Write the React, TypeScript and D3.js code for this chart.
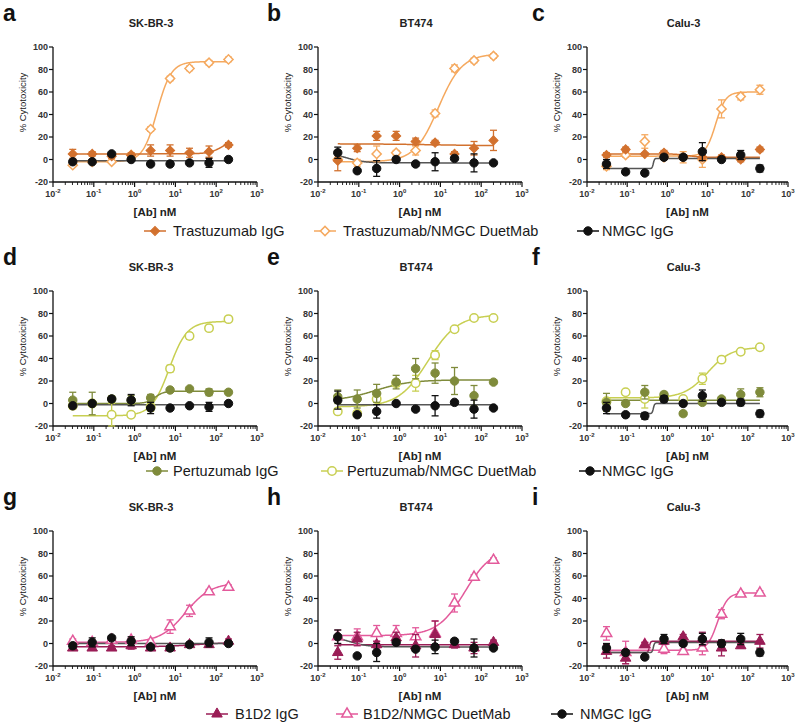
import * as d3 from 'd3';

// concentrations (nM), 3-fold dilution series
const CONC = [0.0305, 0.0914, 0.274, 0.823, 2.47, 7.41, 22.2, 66.7, 200];
const CELL_LINES = ['SK-BR-3', 'BT474', 'Calu-3'];
const PANEL_LETTERS = [['a', 'b', 'c'], ['d', 'e', 'f'], ['g', 'h', 'i']];
const X_TICK_EXP = [-2, -1, 0, 1, 2, 3];
const Y_TICKS = [-20, 0, 20, 40, 60, 80, 100];

const IGG_NAMES = ['Trastuzumab IgG', 'Pertuzumab IgG', 'B1D2 IgG'];
const DUET_NAMES = ['Trastuzumab/NMGC DuetMab', 'Pertuzumab/NMGC DuetMab', 'B1D2/NMGC DuetMab'];
const CTRL_NAME = 'NMGC IgG';
const IGG_COLORS = ['#d2712e', '#7f8b3b', '#9a1d56'];
const DUET_COLORS = ['#f5a95f', '#c8cf52', '#e35a9b'];
const CTRL_COLOR = '#111';
const CTRL_LINE = '#555';
const SHAPES = ['diamond', 'circle', 'triangle'];

// % cytotoxicity, [antibody row][cell line][concentration]
const IGG_MEAN = [
  [[5, 5, 3, 4, 8, 8, 6, 7, 13], [-1, 10, 21, 21, 16, 15, 5, 10, 17], [4, 9, 5, 6, 2, 2, 2, 0, 9]],
  [[3, 0, 4, 3, 5, 12, 13, 10, 10], [6, 4, 9, 19, 31, 27, 20, 7, 19], [1, 0, 10, 8, -9, 1, 4, 8, 10]],
  [[-4, -4, -4, -2, -4, -4, -1, -1, 2], [-8, 4, -1, 5, -2, 8, -1, -4, 1], [-7, -13, -1, 2, 6, 4, -4, -2, 2]],
];
const IGG_ERR = [
  [[4, 2, 2, 2, 5, 5, 4, 5, 2], [9, 3, 4, 4, 3, 2, 2, 6, 9], [2, 2, 1, 2, 2, 2, 2, 2, 2]],
  [[7, 10, 3, 4, 3, 1, 1, 3, 1], [6, 8, 8, 6, 9, 9, 12, 9, 2], [8, 2, 6, 2, 2, 2, 2, 5, 4]],
  [[2, 2, 2, 3, 2, 2, 2, 2, 2], [6, 6, 3, 5, 10, 12, 3, 5, 2], [6, 5, 2, 2, 2, 6, 7, 2, 6]],
];
const DUET_MEAN = [
  [[-5, -2, -2, 4, 27, 72, 81, 86, 89], [0, -3, 5, 6, 8, 41, 81, 88, 92], [-6, 4, 16, 2, 2, 0, 45, 56, 62]],
  [[-2, 0, -10, -10, -3, 31, 60, 67, 75], [-7, -9, 4, 18, 18, 43, 66, 76, 76], [2, 10, 4, 5, 4, 22, 39, 46, 50]],
  [[2, 1, 3, 3, 1, 15, 29, 46, 50], [6, 6, 9, 9, 6, 9, 36, 59, 74], [9, -8, -1, -5, -7, -4, 26, 44, 45]],
];
const DUET_ERR = [
  [[1, 1, 1, 1, 2, 2, 2, 2, 2], [2, 3, 7, 2, 4, 3, 3, 2, 2], [3, 2, 6, 2, 5, 7, 8, 3, 4]],
  [[3, 2, 10, 2, 4, 3, 3, 2, 1], [1, 2, 2, 3, 7, 4, 2, 1, 1], [2, 2, 8, 2, 2, 5, 2, 2, 2]],
  [[2, 2, 2, 2, 2, 6, 5, 2, 2], [6, 7, 7, 7, 8, 11, 8, 2, 2], [6, 10, 2, 4, 2, 6, 4, 2, 2]],
];
const CTRL_MEAN = [
  [[-2, -2, 5, 0, -4, -4, -3, -3, 0], [6, -10, -8, 0, -4, -2, 1, -3, -3], [-4, -11, -12, 2, 2, 7, 0, 4, -8]],
  [[-2, 0, 4, 3, -4, -4, -2, -3, 0], [3, -10, -7, 0, -5, -2, 1, -5, -4], [-4, -10, -11, 4, 0, 7, 1, 1, -9]],
  [[-2, 1, 5, 2, -3, -4, -1, 1, 0], [6, -11, -8, 1, -5, -3, 2, -4, -4], [-4, -8, -12, 4, 0, 4, 0, 4, -8]],
];
const CTRL_ERR = [
  [[1, 1, 1, 1, 1, 1, 1, 4, 1], [5, 1, 7, 1, 2, 8, 1, 8, 1], [4, 2, 2, 2, 2, 8, 1, 4, 3]],
  [[1, 1, 1, 5, 5, 1, 1, 4, 1], [8, 1, 6, 1, 2, 9, 1, 8, 1], [5, 2, 3, 3, 2, 5, 2, 3, 3]],
  [[2, 4, 2, 4, 2, 2, 2, 4, 2], [6, 1, 8, 2, 2, 6, 2, 8, 1], [4, 2, 2, 4, 2, 5, 3, 5, 3]],
];

// four-parameter fits: [low-conc plateau, high-conc plateau, logEC50, hill]
const IGG_FIT = [
  [[5, 20, 2.2, 2.5], [14, 12, 1, 0.5], [5, 2, 0.5, 3]],
  [[0, 11, 0.5, 4], [2, 21, -0.6, 1], [3, 3, 0, 1]],
  [[-3, 1, 1.5, 1], [-1, -1, 0, 1], [-8, 2, -0.45, 30]],
];
const DUET_FIT = [
  [[-2, 87, 0.55, 2.5], [-2, 94, 0.95, 1.5], [3, 60, 1.2, 3.5]],
  [[-11, 73, 0.85, 2], [-3, 79, 0.7, 1.2], [5, 50, 1.0, 1.5]],
  [[1, 54, 1.25, 1.4], [7, 85, 1.6, 1.3], [-6, 45, 1.25, 3.5]],
];
const CTRL_FIT = [
  [[-1, -1, 0, 1], [6, -3, -1.3, 2], [-8, 1, -0.35, 30]],
  [[-1, -1, 0, 1], [-1, -1, 0, 1], [-9, 0, -0.35, 30]],
  [[0, 0, 0, 1], [6, -3, -1.2, 2], [-8, 1, -0.35, 30]],
];

// layout
const COL_X = [53, 318, 587];
const COL_W = [204, 204, 201];
const ROW_TOP = [47, 291, 531];
const PLOT_H = 135;
const LETTER_X = [3, 267, 532];
const LEGEND_DY = [49, 45, 48];
const LEGEND_MARK_X = [[155, 325, 588], [157, 332, 590], [217, 347, 562]];
const LEGEND_TEXT_X = [[173, 343, 602], [173, 347, 602], [235, 363, 580]];

const FONT = '"Liberation Sans", Arial, Helvetica, sans-serif';

function markerPath(shape: string) {
  if (shape === 'circle') return d3.symbol(d3.symbolCircle, 56)()!;
  if (shape === 'triangle') return d3.symbol(d3.symbolTriangle, 48)()!;
  return d3.symbol(d3.symbolSquare, 42)()!;
}

function Marker({ shape, color, open, x, y }: { shape: string; color: string; open: boolean; x: number; y: number }) {
  const rot = shape === 'diamond' ? ' rotate(45)' : '';
  return (
    <path
      d={markerPath(shape)}
      transform={`translate(${x},${y})${rot}`}
      fill={open ? '#fff' : color}
      stroke={color}
      strokeWidth={open ? 1.5 : 1}
    />
  );
}

function fitValue(p: number[], logx: number) {
  const [lo, hi, ec, hill] = p;
  return lo + (hi - lo) / (1 + Math.pow(10, (ec - logx) * hill));
}

function Panel({ row, col }: { row: number; col: number }) {
  const x0 = COL_X[col];
  const w = COL_W[col];
  const top = ROW_TOP[row];
  const bottom = top + PLOT_H;
  const x = d3.scaleLog().domain([0.01, 1000]).range([x0, x0 + w]);
  const y = d3.scaleLinear().domain([-20, 100]).range([bottom, top]);
  const minor = x.ticks().filter((t) => Math.abs(Math.log10(t) - Math.round(Math.log10(t))) > 1e-6);

  const logLo = Math.log10(CONC[0]);
  const logHi = Math.log10(CONC[CONC.length - 1]);
  const samples = d3.range(0, 241).map((i) => logLo + ((logHi - logLo) * i) / 240);
  const line = d3.line<number>().x((l) => x(Math.pow(10, l)));
  const fitPath = (p: number[]) => line.y((l) => y(fitValue(p, l)))(samples)!;

  const series = [
    { mean: DUET_MEAN[row][col], err: DUET_ERR[row][col], fit: DUET_FIT[row][col], color: DUET_COLORS[row], lineColor: DUET_COLORS[row], shape: SHAPES[row], open: true },
    { mean: IGG_MEAN[row][col], err: IGG_ERR[row][col], fit: IGG_FIT[row][col], color: IGG_COLORS[row], lineColor: IGG_COLORS[row], shape: SHAPES[row], open: false },
    { mean: CTRL_MEAN[row][col], err: CTRL_ERR[row][col], fit: CTRL_FIT[row][col], color: CTRL_COLOR, lineColor: CTRL_LINE, shape: 'circle', open: false },
  ];

  return (
    <g fontFamily={FONT}>
      <text x={LETTER_X[col]} y={top - 26} fontSize={23} fontWeight="bold" fill="#111">{PANEL_LETTERS[row][col]}</text>
      <text x={x0 + w / 2 - 4} y={top - 20} fontSize={11} fontWeight="bold" textAnchor="middle" fill="#222">{CELL_LINES[col]}</text>
      <text transform={`translate(${x0 - 27},${(top + bottom) / 2 - 12}) rotate(-90)`} fontSize={9.5} textAnchor="middle" fill="#222">% Cytotoxicity</text>

      {/* y axis */}
      <line x1={x0} x2={x0} y1={y(100)} y2={bottom} stroke="#111" strokeWidth={1.3} />
      {Y_TICKS.map((t) => (
        <g key={t}>
          <line x1={x0 - 4} x2={x0} y1={y(t)} y2={y(t)} stroke="#111" strokeWidth={1.2} />
          <text x={x0 - 5} y={y(t) + 3.2} fontSize={9} fontWeight="bold" textAnchor="end" fill="#333">{t}</text>
        </g>
      ))}

      {/* x axis */}
      <line x1={x0} x2={x0 + w} y1={bottom} y2={bottom} stroke="#111" strokeWidth={1.3} />
      {minor.map((t) => (
        <line key={t} x1={x(t)} x2={x(t)} y1={bottom} y2={bottom + 3} stroke="#111" strokeWidth={0.9} />
      ))}
      {X_TICK_EXP.map((e) => (
        <g key={e}>
          <line x1={x(Math.pow(10, e))} x2={x(Math.pow(10, e))} y1={bottom} y2={bottom + 5} stroke="#111" strokeWidth={1.2} />
          <text x={x(Math.pow(10, e))} y={bottom + 15} fontSize={9} fontWeight="bold" textAnchor="middle" fill="#333">
            10<tspan dy={-4} fontSize={6}>{e}</tspan>
          </text>
        </g>
      ))}
      <text x={x0 + w / 2} y={bottom + 34} fontSize={11.5} fontWeight="bold" textAnchor="middle" fill="#222">[Ab] nM</text>

      {/* fits */}
      {series.map((s, i) => (
        <path key={`f${i}`} d={fitPath(s.fit)} fill="none" stroke={s.lineColor} strokeWidth={1.5} />
      ))}

      {/* error bars + markers */}
      {series.map((s, i) => (
        <g key={`s${i}`}>
          {s.mean.map((m, j) => {
            const cx = x(CONC[j]);
            const e = s.err[j];
            return (
              <g key={j} stroke={s.color} strokeWidth={1.3}>
                <line x1={cx} x2={cx} y1={y(m - e)} y2={y(m + e)} />
                <line x1={cx - 3.5} x2={cx + 3.5} y1={y(m - e)} y2={y(m - e)} />
                <line x1={cx - 3.5} x2={cx + 3.5} y1={y(m + e)} y2={y(m + e)} />
              </g>
            );
          })}
          {s.mean.map((m, j) => (
            <Marker key={`m${j}`} shape={s.shape} color={s.color} open={s.open} x={x(CONC[j])} y={y(m)} />
          ))}
        </g>
      ))}
    </g>
  );
}

function Legend({ row }: { row: number }) {
  const ly = ROW_TOP[row] + PLOT_H + LEGEND_DY[row];
  const items = [
    { name: IGG_NAMES[row], color: IGG_COLORS[row], shape: SHAPES[row], open: false },
    { name: DUET_NAMES[row], color: DUET_COLORS[row], shape: SHAPES[row], open: true },
    { name: CTRL_NAME, color: CTRL_COLOR, shape: 'circle', open: false },
  ];
  return (
    <g fontFamily={FONT}>
      {items.map((it, i) => {
        const mx = LEGEND_MARK_X[row][i];
        return (
          <g key={i}>
            <line x1={mx - 11} x2={mx + 11} y1={ly} y2={ly} stroke={it.color} strokeWidth={1.5} />
            <Marker shape={it.shape} color={it.color} open={it.open} x={mx} y={ly} />
            <text x={LEGEND_TEXT_X[row][i]} y={ly + 5} fontSize={14.5} fill="#1a1a1a">{it.name}</text>
          </g>
        );
      })}
    </g>
  );
}

export default function App() {
  return (
    <svg
      width={800}
      height={723}
      viewBox="0 0 800 723"
      style={{ position: 'absolute', left: 0, top: 0, background: '#fff' }}
    >
      <rect width={800} height={723} fill="#fff" />
      {[0, 1, 2].map((r) => (
        <g key={r}>
          {[0, 1, 2].map((c) => (
            <Panel key={c} row={r} col={c} />
          ))}
          <Legend row={r} />
        </g>
      ))}
    </svg>
  );
}
